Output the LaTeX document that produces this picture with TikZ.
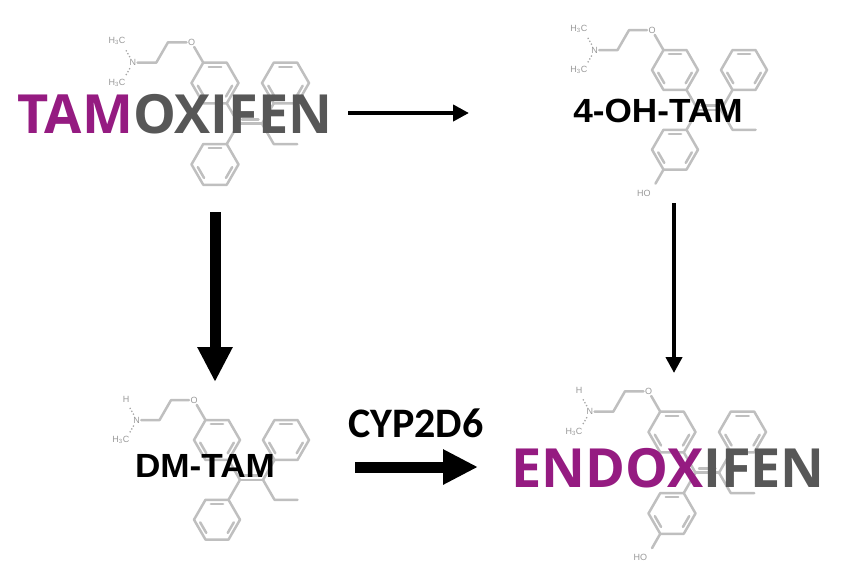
\documentclass[tikz,border=0pt]{standalone}
\usepackage{fontspec}
\usepackage{tikz}
\usetikzlibrary{arrows.meta}
\setmainfont{Liberation Sans}
\newfontfamily\namefont{Open Sans}
\newfontfamily\labfont{Liberation Sans}[FakeStretch=1.05]
\newfontfamily\enzfont{Carlito}
\definecolor{tampurple}{HTML}{951B81}
\definecolor{tamgray}{HTML}{575757}
\newcommand{\bondwidth}{2.5pt}

\tikzset{
  bond/.style={draw=black!25, line width=\bondwidth, line cap=round, line join=round},
  nbond/.style={draw=black!35, line width=1.3pt, dotted},
  atom/.style={text=black!40, font=\fontsize{9}{9}\selectfont, inner sep=0.5pt, outer sep=1pt},
  bigname/.style={anchor=base, inner sep=0pt, text=tamgray, font=\namefont\bfseries\fontsize{54}{54}\selectfont},
  smallname/.style={anchor=base, inner sep=0pt, text=black, font=\labfont\bfseries\fontsize{33.5}{34}\selectfont},
  thin arrow/.style={line width=4pt, -{Triangle[width=16pt,length=16pt]}},
  thick arrow/.style={line width=11pt, -{Triangle[width=33pt,length=35pt]}}
}

% one benzene ring (radius 1) with three inner lines
\newcommand{\benzene}[1]{%
  \draw[bond] (#1) +(0:1) -- +(60:1) -- +(120:1) -- +(180:1) -- +(240:1) -- +(300:1) -- cycle;
  \foreach \a in {60,180,300}
    \draw[bond] (#1) +(\a+9:0.74) -- +(\a+51:0.74);
}

% #1 name, #2 centre of upper ring, #3 bond length, #4 upper N group, #5 hydroxy (1/0)
\newcommand{\molecule}[5]{%
  \begin{scope}[shift={#2}, x=#3pt, y=#3pt]
    \coordinate (#1-a) at (0,0);
    \coordinate (#1-b) at (3,0);
    \coordinate (#1-c) at (0,-3.464);
    \benzene{#1-a} \benzene{#1-b} \benzene{#1-c}
    % central double bond
    \draw[bond] (0.5,-0.866) -- (1,-1.732) -- (0.5,-2.598);
    \draw[bond] (1,-1.732) -- (2,-1.732);
    \draw[bond] (1.15,-1.55) -- (1.85,-1.55);
    \draw[bond] (2.5,-0.866) -- (2,-1.732) -- (2.5,-2.598) -- (3.5,-2.598);
    % side chain
    \node[atom] (#1-o) at (-1,1.732) {O};
    \node[atom] (#1-n) at (-3.5,0.866) {N};
    \draw[bond] (-0.5,0.866) -- (#1-o);
    \draw[bond] (#1-o) -- (-2,1.732) -- (-2.5,0.866) -- (#1-n);
    \node[atom, anchor=east] (#1-m1) at (-3.75,1.78) {#4};
    \node[atom, anchor=east] (#1-m2) at (-3.75,0) {H\textsubscript{3}C};
    \draw[nbond] (-3.62,1.1) -- (-3.82,1.45);
    \draw[nbond] (-3.62,0.63) -- (-3.82,0.28);
    \ifnum#5=1
      \draw[bond] (-0.5,-4.33) -- (-0.85,-4.94);
      \node[atom] (#1-oh) at (-1.35,-5.35) {HO};
    \fi
  \end{scope}}

\begin{document}
\begin{tikzpicture}[x=1pt, y=-1pt]
  \useasboundingbox (0,0) rectangle (866,587);

  % structures
  \molecule{tam}{(215,83)}{23.5}{H\textsubscript{3}C}{0}
  \molecule{oh}{(675,70)}{23}{H\textsubscript{3}C}{1}
  \molecule{dm}{(217,440)}{23}{H}{0}
  \molecule{endo}{(672,432)}{23.5}{H}{1}

  % names
  \node[bigname] (tamox) at (175,133) {\textcolor{tampurple}{TAM}OXIFEN};
  \node[smallname] (ohtam) at (658,122) {4-OH-TAM};
  \node[smallname] (dmtam) at (205,477) {DM-TAM};
  \node[smallname, font=\enzfont\bfseries\fontsize{42}{42}\selectfont] (cyp) at (416,437) {CYP2D6};
  \node[bigname] (endox) at (668,487) {\textcolor{tampurple}{ENDOX}IFEN};

  % arrows
  \coordinate (tam-e) at (348,113);
  \coordinate (oh-w) at (469,113);
  \coordinate (oh-s) at (674,203);
  \coordinate (endo-n) at (674,373);
  \coordinate (tam-s) at (215,212);
  \coordinate (dm-n) at (215,382);
  \coordinate (dm-e) at (355,467);
  \coordinate (endo-w) at (478,467);

  \draw[thin arrow] (tam-e) -- (oh-w);
  \draw[thin arrow] (oh-s) -- (endo-n);
  \draw[thick arrow] (tam-s) -- (dm-n);
  \draw[thick arrow] (dm-e) -- (endo-w);
\end{tikzpicture}
\end{document}
